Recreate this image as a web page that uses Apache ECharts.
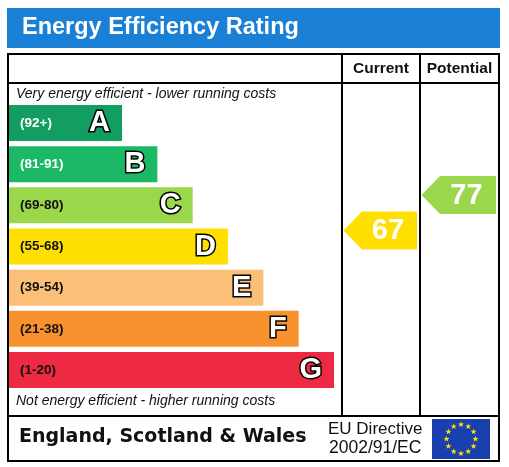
<!DOCTYPE html>
<html><head><meta charset="utf-8">
<script src="https://cdn.jsdelivr.net/npm/echarts@6/dist/echarts.min.js"></script>
<style>html,body{margin:0;padding:0;background:#fff}#c{width:509px;height:467px}</style>
</head><body><div id="c"></div>
<script>
const bands = ['A','B','C','D','E','F','G'];
const ranges = ['(92+)','(81-91)','(69-80)','(55-68)','(39-54)','(21-38)','(1-20)'];
const barLen = [3.2,4.2,5.2,6.2,7.2,8.2,9.2];
const bandColors = ['#129d61','#1bb866','#9bd74a','#ffdf00','#fcbf78','#f7922f','#ee2a42'];
const rangeTextColors = ['#fff','#fff','#111','#111','#111','#111','#111'];
const currentRating = 67;
const potentialRating = 77;
const currentColor = '#ffdf00';
const potentialColor = '#9bd74a';

const chart = echarts.init(document.getElementById('c'), null, {renderer:'canvas'});
const F = '"Liberation Sans", Arial, sans-serif';

function arrowItem(params, api){
  const cs = params.coordSys;
  const p = api.coord([0, api.value(1)]);
  const cy = p[1], h = 19;
  const x0 = cs.x + 1.5, xn = cs.x + 20, xr = cs.x + cs.width - 3;
  return {type:'group', children:[
    {type:'polygon', shape:{points:[[x0,cy],[xn,cy-h],[xr,cy-h],[xr,cy+h],[xn,cy+h]]},
     style:{fill: api.visual('color')}},
    {type:'text', style:{text:String(api.value(1)), x:(xn+xr)/2 - 1.5, y:cy+1,
      align:'center', verticalAlign:'middle', fill:'#fff', font:'bold 29px '+F}}
  ]};
}

const stars = [];
for (let i=0;i<12;i++){
  const a = i*Math.PI/6;
  const cx = 461 + 14.5*Math.sin(a), cy = 439 - 14.5*Math.cos(a);
  const pts = [];
  for (let k=0;k<10;k++){
    const r = k%2===0 ? 3.2 : 1.3;
    const b = k*Math.PI/5;
    pts.push([cx + r*Math.sin(b), cy - r*Math.cos(b)]);
  }
  stars.push({type:'polygon', shape:{points:pts}, style:{fill:'#ffe000'}, z:12});
}

chart.setOption({
  animation:false,
  grid:[
    {left:9, top:102.4, width:325, height:288.2},
    {left:342, top:113.85, width:78, height:355},
    {left:420, top:113.85, width:79, height:355}
  ],
  xAxis:[
    {gridIndex:0, type:'value', min:0, max:9.2, show:false},
    {gridIndex:1, type:'value', min:0, max:1, show:false},
    {gridIndex:2, type:'value', min:0, max:1, show:false}
  ],
  yAxis:[
    {gridIndex:0, type:'category', data:bands, inverse:true, show:false},
    {gridIndex:1, type:'value', min:0, max:100, show:false},
    {gridIndex:2, type:'value', min:0, max:100, show:false}
  ],
  series:[
    {type:'bar', xAxisIndex:0, yAxisIndex:0, barWidth:36, barGap:'-100%',
     data: barLen.map((v,i)=>({value:v, itemStyle:{color:bandColors[i]}})),
     label:{show:true, position:'insideRight', distance:12, formatter:p=>bands[p.dataIndex],
       color:'#fff', fontFamily:F, fontWeight:'bold', fontSize:29,
       textBorderColor:'#000', textBorderWidth:3}},
    {type:'bar', xAxisIndex:0, yAxisIndex:0, barWidth:36, barGap:'-100%',
     data: barLen.map((v,i)=>({value:v, label:{color:rangeTextColors[i]}})),
     itemStyle:{color:'rgba(0,0,0,0)'},
     label:{show:true, position:'insideLeft', distance:11, formatter:p=>ranges[p.dataIndex],
       fontFamily:F, fontWeight:'bold', fontSize:13.5}},
    {type:'custom', xAxisIndex:1, yAxisIndex:1, renderItem:arrowItem,
     itemStyle:{color:currentColor}, data:[[0,currentRating]]},
    {type:'custom', xAxisIndex:2, yAxisIndex:2, renderItem:arrowItem,
     itemStyle:{color:potentialColor}, data:[[0,potentialRating]]}
  ],
  graphic:[
    {type:'rect', shape:{x:7, y:8, width:493, height:40}, style:{fill:'#1a80d5'}, z:5},
    {type:'text', style:{text:'Energy Efficiency Rating', x:22, y:27.5, verticalAlign:'middle',
      fill:'#fff', font:'bold 23.5px '+F}, z:6},
    {type:'rect', shape:{x:8, y:54, width:491, height:407}, style:{fill:'none', stroke:'#000', lineWidth:2}, z:5},
    {type:'line', shape:{x1:8, y1:83, x2:499, y2:83}, style:{stroke:'#000', lineWidth:2}, z:5},
    {type:'line', shape:{x1:8, y1:416, x2:499, y2:416}, style:{stroke:'#000', lineWidth:2}, z:5},
    {type:'line', shape:{x1:342, y1:54, x2:342, y2:416}, style:{stroke:'#000', lineWidth:2}, z:5},
    {type:'line', shape:{x1:420, y1:54, x2:420, y2:416}, style:{stroke:'#000', lineWidth:2}, z:5},
    {type:'text', style:{text:'Current', x:381, y:68.5, align:'center', verticalAlign:'middle', fill:'#111', font:'bold 15.5px '+F}, z:6},
    {type:'text', style:{text:'Potential', x:459.5, y:68.5, align:'center', verticalAlign:'middle', fill:'#111', font:'bold 15.5px '+F}, z:6},
    {type:'text', style:{text:'Very energy efficient - lower running costs', x:16, y:94.5, verticalAlign:'middle', fill:'#111', font:'italic 14px '+F}, z:6},
    {type:'text', style:{text:'Not energy efficient - higher running costs', x:16, y:401.5, verticalAlign:'middle', fill:'#111', font:'italic 14px '+F}, z:6},
    {type:'text', style:{text:'England, Scotland & Wales', x:19, y:437.5, verticalAlign:'middle', fill:'#111', font:'bold 19px "DejaVu Sans", Verdana, sans-serif'}, z:6},
    {type:'text', style:{text:'EU Directive', x:328, y:429, verticalAlign:'middle', fill:'#111', font:'17px '+F}, z:6},
    {type:'text', style:{text:'2002/91/EC', x:329, y:448, verticalAlign:'middle', fill:'#111', font:'17.5px '+F}, z:6},
    {type:'rect', shape:{x:432, y:419, width:58, height:40}, style:{fill:'#1a3fae'}, z:11}
  ].concat(stars)
});
</script></body></html>
